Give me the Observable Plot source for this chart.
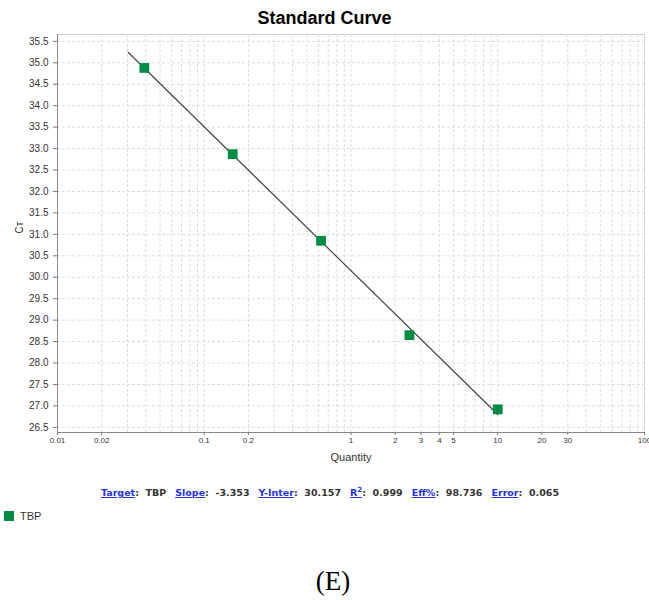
<!DOCTYPE html>
<html>
<head>
<meta charset="utf-8">
<script src="https://cdn.jsdelivr.net/npm/d3@7"></script>
<script src="https://cdn.jsdelivr.net/npm/@observablehq/plot@0.6"></script>
<style>
  html, body { margin: 0; padding: 0; background: #fff; }
  body { position: relative; width: 649px; height: 600px; overflow: hidden; font-family: "Liberation Sans", Arial, sans-serif; }
  #title { position: absolute; top: 8px; left: 0; width: 649px; text-align: center; font-weight: bold; font-size: 18px; color: #000; }
  #chart { position: absolute; top: 30px; left: 0; }
  #stats { position: absolute; top: 486px; left: 0; width: 660px; text-align: center; font-family: "DejaVu Sans", Tahoma, sans-serif; font-weight: bold; font-size: 9.5px; color: #333; white-space: nowrap; }
  #stats a { color: #2233dd; text-decoration: underline; }
  #stats .sp { display: inline-block; width: 9px; }
  #legend { position: absolute; top: 510px; left: 4px; font-size: 11px; color: #333; display: flex; align-items: center; }
  #legend .sw { width: 10px; height: 10px; background: #008c44; margin-right: 6px; }
  #cap { position: absolute; top: 566px; left: 0; width: 666px; text-align: center; font-family: "Liberation Serif", "Times New Roman", serif; font-size: 27px; color: #000; }
</style>
</head>
<body>
<div id="title">Standard Curve</div>
<div id="chart"></div>
<div id="stats"></div>
<div id="legend"><div class="sw"></div><span>TBP</span></div>
<div id="cap">(E)</div>
<script>
// Data
const quantities = [0.0390625, 0.15625, 0.625, 2.5, 10];
const ctValues = [34.88, 32.87, 30.85, 28.65, 26.92];
const fitQuantity = [0.0304, 10];
const fitCt = [35.24, 26.80];
const xTickLabels = [0.01, 0.02, 0.1, 0.2, 1, 2, 3, 4, 5, 10, 20, 30, 100];
const xGrid = [0.01,0.02,0.03,0.04,0.05,0.06,0.07,0.08,0.09,
               0.1,0.2,0.3,0.4,0.5,0.6,0.7,0.8,0.9,
               1,2,3,4,5,6,7,8,9,
               10,20,30,40,50,60,70,80,90,100];
const yTicks = [26.5,27.0,27.5,28.0,28.5,29.0,29.5,30.0,30.5,31.0,31.5,32.0,32.5,33.0,33.5,34.0,34.5,35.0,35.5];
const statLabels = ["Target", "Slope", "Y-Inter", "R2", "Eff%", "Error"];
const statValues = ["TBP", "-3.353", "30.157", "0.999", "98.736", "0.065"];

const points = quantities.map((q, i) => ({q, ct: ctValues[i]}));
const fit = fitQuantity.map((q, i) => ({q, ct: fitCt[i]}));

const plot = Plot.plot({
  width: 649,
  height: 435,
  marginTop: 4,
  marginLeft: 57,
  marginRight: 5,
  marginBottom: 33,
  style: {fontFamily: "Liberation Sans, Arial, sans-serif", fontSize: "9px", color: "#333", overflow: "visible"},
  x: {type: "log", domain: [0.01, 100], label: null},
  y: {domain: [26.38, 35.66], label: null},
  marks: [
    Plot.frame({stroke: "#ccc"}),
    Plot.ruleX(xGrid, {stroke: "#ddd", strokeDasharray: "3,2"}),
    Plot.ruleY(yTicks, {stroke: "#ddd", strokeDasharray: "3,2"}),
    Plot.axisX({ticks: xTickLabels, tickFormat: () => "", tickSize: 3, stroke: "#777", label: null}),
    Plot.text(xTickLabels, {x: d => d, text: d => String(d), frameAnchor: "bottom", lineAnchor: "top", dy: 5, fontSize: 8, fill: "#333"}),
    Plot.axisY(yTicks, {tickFormat: d => d.toFixed(1), tickSize: 4, fontSize: 10, stroke: "#777", label: null}),
    Plot.ruleX([0.01], {stroke: "#888"}),
    Plot.ruleY([26.38], {stroke: "#888"}),
    Plot.line(fit, {x: "q", y: "ct", stroke: "#444", strokeWidth: 1.2}),
    Plot.dot(points, {x: "q", y: "ct", symbol: "square", r: 5.5, fill: "#008c44", stroke: "none"}),
    Plot.text(["Quantity"], {frameAnchor: "bottom", dy: 28, fontSize: 11, fill: "#333"}),
    Plot.text(["Cᴛ"], {frameAnchor: "left", dx: -38, rotate: -90, fontSize: 10, fill: "#333"})
  ]
});
document.getElementById("chart").appendChild(plot);

const stats = document.getElementById("stats");
stats.innerHTML = statLabels.map((l, i) => {
  const lab = l === "R2" ? "R<sup style='font-size:7px'>2</sup>" : l;
  return `<a>${lab}</a>:&nbsp; ${statValues[i]}`;
}).join("<span class='sp'></span>");
</script>
</body>
</html>
